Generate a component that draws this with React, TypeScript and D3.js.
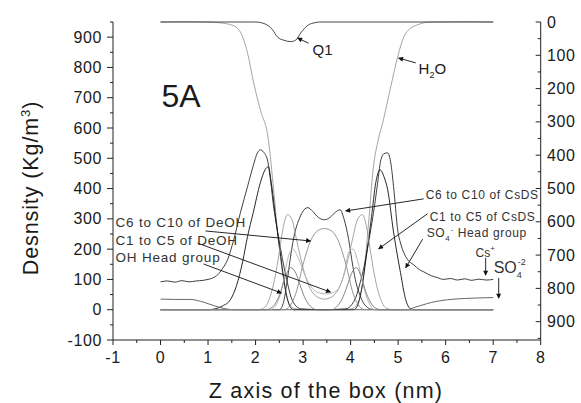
import React from "react";
import * as d3 from "d3";

type P = [number, number];

// ---- data (z in nm, density in kg/m3) ----
const xTicks = [-1, 0, 1, 2, 3, 4, 5, 6, 7, 8];
const yLeftTicks = [-100, 0, 100, 200, 300, 400, 500, 600, 700, 800, 900];
const yRightTicks = [0, 100, 200, 300, 400, 500, 600, 700, 800, 900];

const h2o: P[] = [[0, 950], [0.5, 951], [1.0, 950], [1.2, 948], [1.5, 940], [1.68, 917], [1.83, 848], [1.96, 749], [2.1, 660], [2.27, 561], [2.38, 396], [2.48, 231], [2.59, 99], [2.67, 33], [2.8, 5], [3.0, 0], [3.9, 0], [4.05, 5], [4.18, 33], [4.27, 110], [4.38, 290], [4.48, 472], [4.58, 560], [4.69, 627], [4.85, 740], [4.99, 835], [5.12, 901], [5.25, 928], [5.41, 941], [5.68, 950], [6.5, 951], [7.0, 950]];

// Q1 is read on the right (reversed) axis
const q1: P[] = [[0, 0], [2.0, 0], [2.2, 6], [2.35, 22], [2.46, 45], [2.6, 55], [2.74, 59], [2.85, 54], [2.95, 33], [3.1, 10], [3.25, 2], [3.35, 0], [7.0, 0]];

const csIon: P[] = [[0, 92], [0.15, 95], [0.3, 91], [0.45, 96], [0.6, 92], [0.75, 95], [0.9, 97], [1.0, 100], [1.1, 105], [1.2, 115], [1.3, 135], [1.41, 165], [1.54, 231], [1.68, 320], [1.83, 406], [1.95, 475], [2.04, 518], [2.1, 528], [2.17, 520], [2.25, 495], [2.32, 420], [2.38, 340], [2.45, 270], [2.53, 198], [2.6, 140], [2.67, 89], [2.74, 45], [2.82, 18], [2.95, 3], [3.43, 0], [3.9, 3], [4.03, 18], [4.12, 45], [4.2, 89], [4.28, 140], [4.35, 198], [4.43, 270], [4.5, 340], [4.57, 420], [4.63, 490], [4.7, 515], [4.78, 518], [4.85, 480], [4.92, 380], [4.99, 264], [5.05, 220], [5.12, 188], [5.2, 165], [5.33, 148], [5.45, 132], [5.54, 125], [5.7, 112], [5.83, 106], [5.95, 100], [6.1, 103], [6.25, 98], [6.4, 102], [6.55, 97], [6.7, 101], [6.85, 98], [7.0, 100]];

const so4Head: P[] = [[0, 0], [1.0, 0], [1.15, 3], [1.3, 12], [1.47, 33], [1.6, 80], [1.73, 160], [1.83, 241], [1.95, 320], [2.1, 419], [2.2, 462], [2.27, 472], [2.33, 420], [2.42, 307], [2.53, 175], [2.63, 66], [2.72, 12], [2.8, 0], [4.06, 0], [4.14, 12], [4.23, 66], [4.33, 175], [4.44, 307], [4.53, 420], [4.62, 462], [4.7, 440], [4.78, 396], [4.9, 260], [5.05, 122], [5.16, 33], [5.26, 3], [5.35, 0], [7.0, 0]];

const so4Ion: P[] = [[0, 35], [0.3, 34], [0.6, 34], [0.84, 28], [1.0, 20], [1.26, 7], [1.45, 1], [1.6, 0], [5.2, 0], [5.33, 7], [5.5, 15], [5.7, 24], [6.04, 33], [6.4, 37], [7.0, 40]];

const c6c10CsDS: P[] = [[0, 0], [2.5, 0], [2.58, 20], [2.67, 100], [2.75, 190], [2.82, 250], [2.92, 300], [3.02, 330], [3.1, 337], [3.2, 325], [3.32, 305], [3.45, 297], [3.57, 305], [3.68, 322], [3.78, 330], [3.86, 300], [3.96, 231], [4.03, 160], [4.1, 99], [4.18, 55], [4.25, 28], [4.35, 8], [4.45, 1], [4.55, 0], [7.0, 0]];

const c1c5CsDS: P[] = [[0, 0], [2.05, 0], [2.17, 5], [2.3, 40], [2.4, 100], [2.5, 190], [2.58, 270], [2.67, 314], [2.76, 300], [2.85, 240], [2.95, 170], [3.05, 110], [3.15, 70], [3.3, 42], [3.45, 35], [3.6, 42], [3.75, 70], [3.85, 110], [3.95, 170], [4.05, 240], [4.15, 300], [4.25, 314], [4.34, 270], [4.42, 190], [4.52, 100], [4.62, 40], [4.75, 5], [4.9, 0], [7.0, 0]];

const c6c10DeOH: P[] = [[0, 0], [2.6, 0], [2.72, 12], [2.85, 55], [3.0, 150], [3.16, 228], [3.3, 260], [3.45, 268], [3.6, 260], [3.74, 228], [3.9, 150], [4.05, 55], [4.18, 12], [4.3, 0], [7.0, 0]];

const c1c5DeOH: P[] = [[0, 0], [2.3, 0], [2.45, 20], [2.58, 90], [2.68, 170], [2.78, 200], [2.9, 170], [3.05, 110], [3.2, 70], [3.35, 55], [3.5, 52], [3.65, 58], [3.78, 80], [3.88, 130], [3.96, 190], [4.05, 200], [4.15, 160], [4.25, 90], [4.38, 25], [4.5, 0], [7.0, 0]];

const ohHead: P[] = [[0, 0], [2.2, 0], [2.35, 8], [2.45, 30], [2.53, 59], [2.63, 110], [2.74, 139], [2.85, 120], [2.95, 75], [3.05, 35], [3.15, 12], [3.3, 0], [3.6, 0], [3.72, 12], [3.82, 35], [3.92, 75], [4.02, 120], [4.12, 139], [4.22, 110], [4.32, 59], [4.4, 30], [4.5, 8], [4.65, 0], [7.0, 0]];

const series = [
  { name: "H2O", data: h2o, axis: "L", color: "#9a9a9a" },
  { name: "Q1", data: q1, axis: "R", color: "#333" },
  { name: "Cs+", data: csIon, axis: "L", color: "#2a2a2a" },
  { name: "SO4- Head group", data: so4Head, axis: "L", color: "#111" },
  { name: "SO4-2", data: so4Ion, axis: "L", color: "#555" },
  { name: "C6 to C10 of CsDS", data: c6c10CsDS, axis: "L", color: "#2a2a2a" },
  { name: "C1 to C5 of CsDS", data: c1c5CsDS, axis: "L", color: "#9a9a9a" },
  { name: "C6 to C10 of DeOH", data: c6c10DeOH, axis: "L", color: "#8a8a8a" },
  { name: "C1 to C5 of DeOH", data: c1c5DeOH, axis: "L", color: "#b0b0b0" },
  { name: "OH Head group", data: ohHead, axis: "L", color: "#777" },
];

// annotation arrows: from (z,v) to tip (z,v), left-axis units
const arrows: { from: P; to: P }[] = [
  { from: [3.116, 880], to: [2.884, 897] },
  { from: [5.37, 815], to: [5.01, 831] },
  { from: [0.947, 260], to: [3.158, 227] },
  { from: [0.779, 220], to: [3.579, 58] },
  { from: [0.905, 151], to: [2.547, 55] },
  { from: [5.537, 366], to: [3.895, 326] },
  { from: [5.62, 317], to: [4.589, 201] },
  { from: [5.516, 233], to: [5.158, 138] },
  { from: [6.842, 171], to: [6.842, 114] },
  { from: [7.116, 105], to: [7.116, 38] },
];

const W = 581, H = 403;
const left = 113, right = 540.7, top = 22, bottom = 340;

export default function App() {
  const x = d3.scaleLinear().domain([-1, 8]).range([left, right]);
  const yL = d3.scaleLinear().domain([-100, 950]).range([bottom, top]);
  const yR = d3.scaleLinear().domain([0, 955]).range([top, bottom]);
  const font = "'Liberation Sans', Arial, sans-serif";
  const txt = "#1a1a1a";

  const lineFor = (axis: string) =>
    d3.line<P>().x((d) => x(d[0])).y((d) => (axis === "R" ? yR(d[1]) : yL(d[1]))).curve(d3.curveMonotoneX);

  const xMinor = d3.range(-0.5, 8, 1);
  const yLMinor = d3.range(-50, 951, 100);
  const yRMinor = d3.range(50, 951, 100);

  const smallLbl = { fontSize: 13.5, letterSpacing: 0.8, fill: "#333", fontFamily: font } as const;
  const smallLblR = { fontSize: 12, letterSpacing: 0.65, fill: "#333", fontFamily: font } as const;

  return (
    <svg width={W} height={H} style={{ position: "absolute", left: 0, top: 0, background: "#fff" }}>
      <defs>
        <marker id="ah" viewBox="0 0 10 10" refX="9" refY="5" markerWidth="7" markerHeight="5" orient="auto" markerUnits="userSpaceOnUse">
          <path d="M0,0 L10,5 L0,10 z" fill="#111" />
        </marker>
      </defs>

      {/* curves */}
      <g fill="none" strokeWidth={0.9}>
        {series.map((s) => (
          <path key={s.name} d={lineFor(s.axis)(s.data) || ""} stroke={s.color} />
        ))}
      </g>

      {/* axes */}
      <g stroke="#222" strokeWidth={1}>
        <line x1={left} x2={left} y1={top} y2={bottom} />
        <line x1={right} x2={right} y1={top} y2={bottom} />
        <line x1={left} x2={right} y1={bottom} y2={bottom} />
        {xTicks.map((t) => (
          <line key={"xt" + t} x1={x(t)} x2={x(t)} y1={bottom} y2={bottom + 5} />
        ))}
        {xMinor.map((t) => (
          <line key={"xm" + t} x1={x(t)} x2={x(t)} y1={bottom} y2={bottom + 3} />
        ))}
        {yLeftTicks.map((t) => (
          <line key={"yl" + t} x1={left - 6} x2={left} y1={yL(t)} y2={yL(t)} />
        ))}
        {yLMinor.map((t) => (
          <line key={"ylm" + t} x1={left - 3} x2={left} y1={yL(t)} y2={yL(t)} />
        ))}
        {yRightTicks.map((t) => (
          <line key={"yr" + t} x1={right - 5} x2={right} y1={yR(t)} y2={yR(t)} />
        ))}
        {yRMinor.map((t) => (
          <line key={"yrm" + t} x1={right - 3} x2={right} y1={yR(t)} y2={yR(t)} />
        ))}
      </g>

      {/* tick labels */}
      <g fontFamily={font} fontSize={16} letterSpacing={0.6} fill={txt}>
        {xTicks.map((t) => (
          <text key={"xl" + t} x={x(t)} y={363} textAnchor="middle">{t < 0 ? "-" + Math.abs(t) : t}</text>
        ))}
        {yLeftTicks.map((t) => (
          <text key={"yll" + t} x={102} y={yL(t) + 5.5} textAnchor="end">{t < 0 ? "-" + Math.abs(t) : t}</text>
        ))}
        {yRightTicks.map((t) => (
          <text key={"yrl" + t} x={547} y={yR(t) + 5.5} textAnchor="start">{t}</text>
        ))}
      </g>

      {/* axis titles */}
      <text x={326} y={398} textAnchor="middle" fontFamily={font} fontSize={21.5} letterSpacing={1.2} fill={txt}>Z axis of the box (nm)</text>
      <text transform="translate(38,188) rotate(-90)" textAnchor="middle" fontFamily={font} fontSize={21.5} letterSpacing={0.9} fill={txt}>
        Desnsity (Kg/m<tspan dy={-8} fontSize={13}>3</tspan><tspan dy={8}>)</tspan>
      </text>

      {/* panel label */}
      <text x={x(0.02)} y={yL(669)} fontFamily={font} fontSize={32} fill={txt}>5A</text>

      {/* arrows */}
      <g stroke="#111" strokeWidth={0.9}>
        {arrows.map((a, i) => (
          <line key={"ar" + i} x1={x(a.from[0])} y1={yL(a.from[1])} x2={x(a.to[0])} y2={yL(a.to[1])} markerEnd="url(#ah)" />
        ))}
      </g>

      {/* annotations */}
      <text x={x(3.2)} y={yL(841)} fontFamily={font} fontSize={15} fill={txt}>Q1</text>
      <text x={x(5.43)} y={yL(778)} fontFamily={font} fontSize={15} fill={txt}>
        H<tspan dy={4} fontSize={9}>2</tspan><tspan dy={-4}>O</tspan>
      </text>

      <text x={x(-0.947)} y={yL(271.5)} style={smallLbl}>C6 to C10 of DeOH</text>
      <text x={x(-0.947)} y={yL(215)} style={smallLbl}>C1 to C5 of DeOH</text>
      <text x={x(-0.947)} y={yL(156)} style={smallLbl}>OH Head group</text>

      <text x={x(5.58)} y={yL(366)} style={smallLblR}>C6 to C10 of CsDS</text>
      <text x={x(5.665)} y={yL(293)} style={smallLblR}>C1 to C5 of CsDS</text>
      <text x={x(5.6)} y={yL(240)} style={smallLblR}>
        SO<tspan dy={4} fontSize={8}>4</tspan><tspan dy={-9} fontSize={8}>-</tspan><tspan dy={5}> Head group</tspan>
      </text>
      <text x={x(6.63)} y={yL(174)} fontFamily={font} fontSize={12} fill="#333">
        Cs<tspan dy={-6} fontSize={8}>+</tspan>
      </text>
      <text x={x(7.01)} y={yL(121)} fontFamily={font} fontSize={16} fill="#333">
        SO<tspan dy={5} fontSize={9}>4</tspan><tspan dy={-13} dx={-4} fontSize={9}>-2</tspan>
      </text>
    </svg>
  );
}
